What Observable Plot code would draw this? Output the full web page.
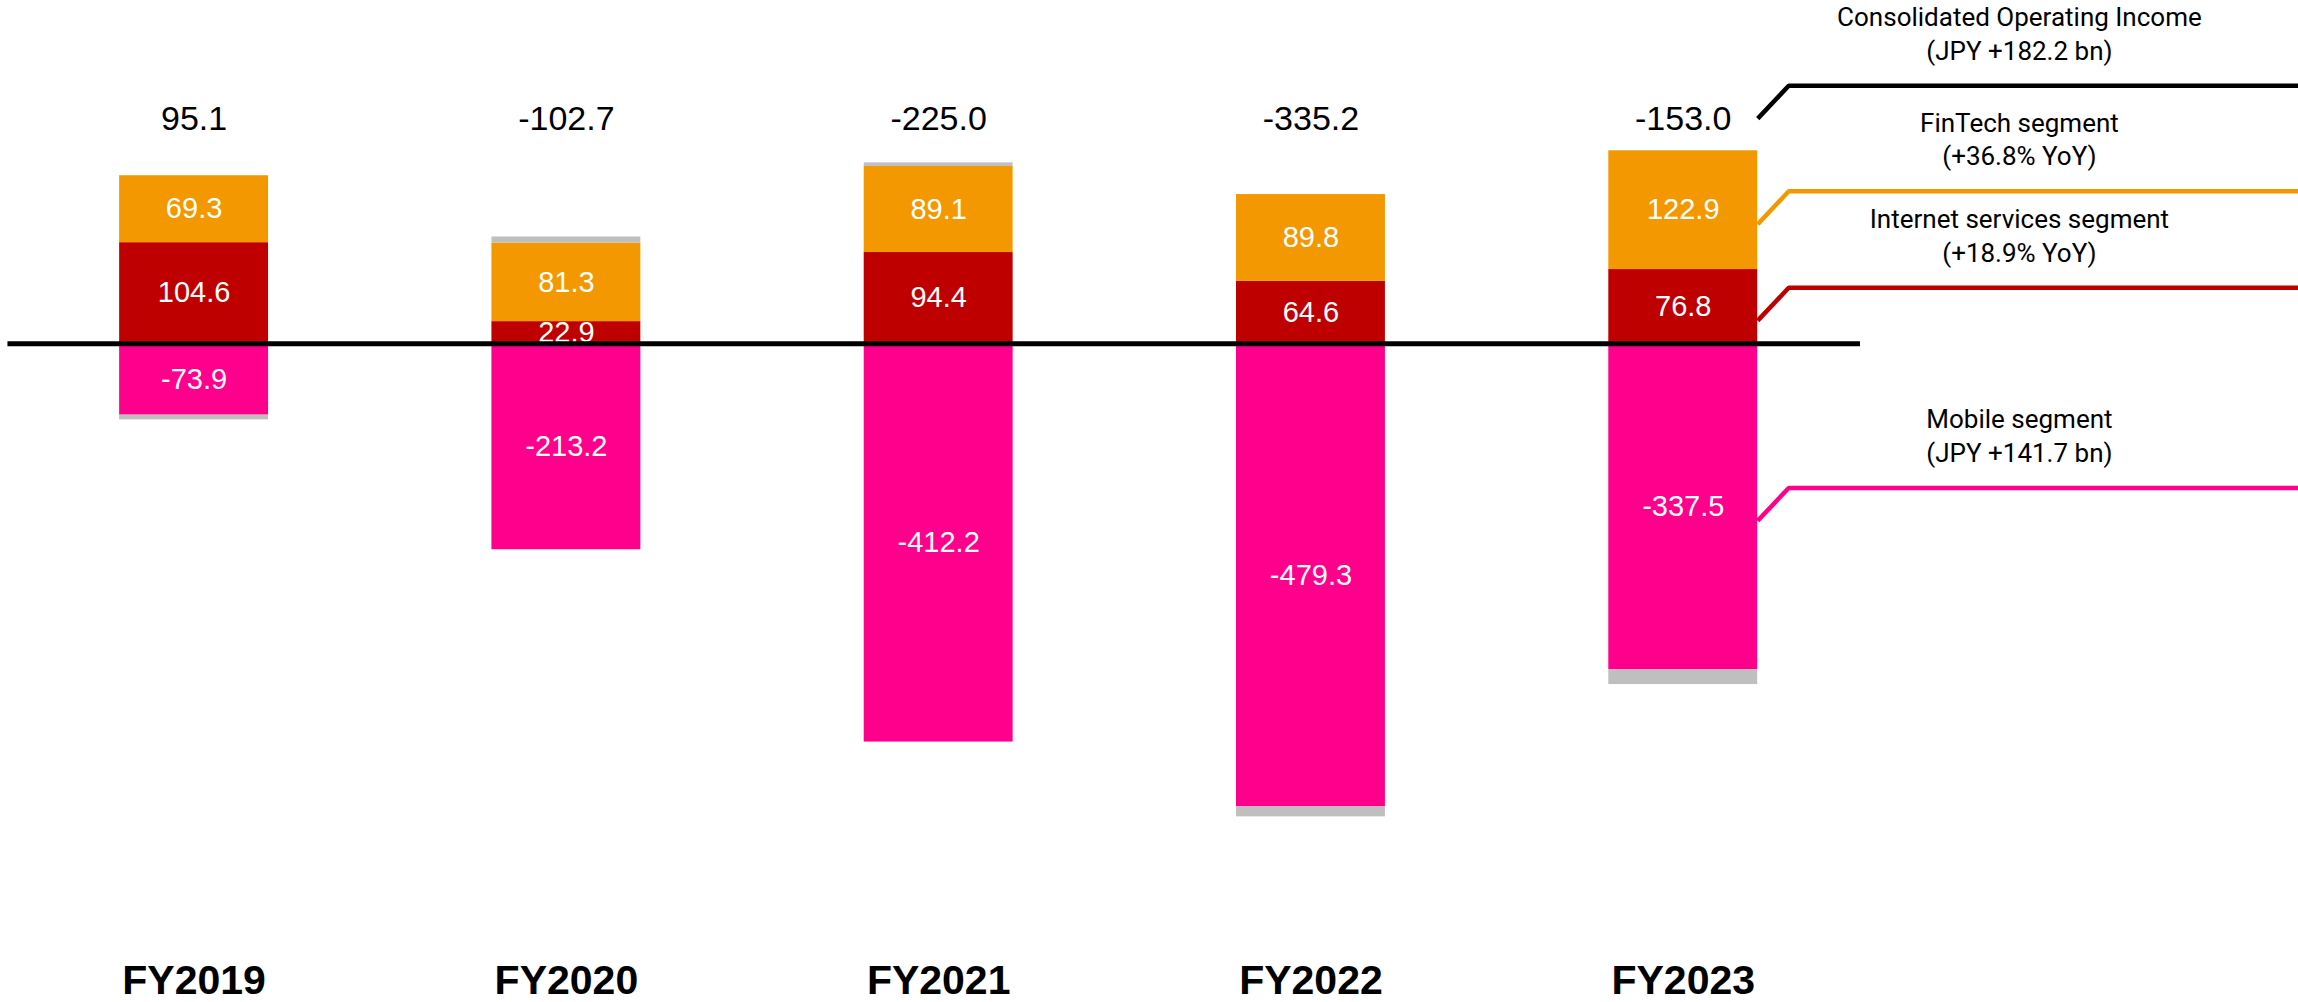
<!DOCTYPE html>
<html>
<head>
<meta charset="utf-8">
<script src="https://cdn.jsdelivr.net/npm/d3@7"></script>
<script src="https://cdn.jsdelivr.net/npm/@observablehq/plot@0.6"></script>
<style>
  html, body { margin: 0; padding: 0; background: #fff; }
  #chart svg { display: block; }
</style>
</head>
<body>
<div id="chart"></div>
<script>
// Operating income by segment, JPY bn
const years = ["FY2019", "FY2020", "FY2021", "FY2022", "FY2023"];
const internetServices = [104.6, 22.9, 94.4, 64.6, 76.8];
const finTech = [69.3, 81.3, 89.1, 89.8, 122.9];
const mobile = [-73.9, -213.2, -412.2, -479.3, -337.5];
const otherAdjustments = [-4.9, 6.3, 3.7, -10.3, -15.2];
const consolidated = [95.1, -102.7, -225.0, -335.2, -153.0];

const segmentNames = ["Internet services", "FinTech", "Mobile", "Other"];
const segmentColors = ["#BF0000", "#F39800", "#FF008C", "#BFBFBF"];

const legendTitles = ["Consolidated Operating Income", "FinTech segment", "Internet services segment", "Mobile segment"];
const legendNotes = ["(JPY +182.2 bn)", "(+36.8% YoY)", "(+18.9% YoY)", "(JPY +141.7 bn)"];
const legendColors = ["#000000", "#F39800", "#BF0000", "#FF008C"];

// Long table: one row per year and segment, in stacking order
const seriesBySegment = [internetServices, finTech, mobile, otherAdjustments];
const rows = years.flatMap((year, i) =>
  segmentNames.map((segment, k) => ({
    i, year, segment, value: seriesBySegment[k][i], color: segmentColors[k]
  }))
);
const labelled = rows.filter(d => d.segment !== "Other");

// Layout, in scale units
const HALF = 0.2;           // half of a bar's width
const X_DOMAIN = [-0.52, 5.6526];
const Y_DOMAIN = [-630, 200];
const TOTAL_ROW = 233;      // row of the consolidated totals, above the bars
const RISE = 34;            // rise of the leader lines
const KINK = 0.0833;        // horizontal run of the leader lines' slant
const LABEL_SHIFT = 14.5;   // leader lines leave a segment a little below its middle

// Leader lines from the last bar to the legend on the right
const last = years.length - 1;
const anchors = [
  TOTAL_ROW,
  internetServices[last] + finTech[last] / 2 - LABEL_SHIFT,
  internetServices[last] / 2 - LABEL_SHIFT,
  mobile[last] / 2 - LABEL_SHIFT
];
const legendRows = legendTitles.map((title, k) => ({
  key: title,
  title,
  note: legendNotes[k],
  color: legendColors[k],
  anchor: anchors[k]
}));
const leaderPoints = legendRows.flatMap(d => [
  {key: d.key, color: d.color, x: last + HALF, y: d.anchor},
  {key: d.key, color: d.color, x: last + HALF + KINK, y: d.anchor + RISE},
  {key: d.key, color: d.color, x: X_DOMAIN[1], y: d.anchor + RISE}
]);

const chart = Plot.plot({
  width: 2298,
  height: 1002,
  marginTop: 150,
  marginBottom: 50,
  marginLeft: 0,
  marginRight: 0,
  style: {fontFamily: "'Liberation Sans', Arial, sans-serif", background: "#fff", color: "#000"},
  x: {type: "linear", domain: X_DOMAIN, axis: null},
  y: {domain: Y_DOMAIN, axis: null},
  color: {type: "identity"},
  marks: [
    Plot.rectY(rows, Plot.stackY({
      x1: d => d.i - HALF,
      x2: d => d.i + HALF,
      y: "value",
      fill: "color"
    })),
    Plot.text(labelled, Plot.stackY({
      x: "i",
      y: "value",
      text: d => d.value.toFixed(1),
      fill: "#fff",
      fontSize: 29
    })),
    Plot.text(years, {
      x: (d, i) => i,
      y: () => TOTAL_ROW,
      text: (d, i) => consolidated[i].toFixed(1),
      fill: "#000",
      fontSize: 34
    }),
    Plot.ruleY([0], {
      x1: () => -0.5,
      x2: () => last + 0.476,
      stroke: "#000",
      strokeWidth: 5
    }),
    Plot.line(leaderPoints, {
      x: "x",
      y: "y",
      z: "key",
      stroke: "color",
      strokeWidth: 4.5,
      strokeLinejoin: "miter",
      strokeLinecap: "butt"
    }),
    Plot.text(legendRows, {
      x: () => 4.903,
      y: d => d.anchor + RISE,
      text: d => d.title + "\n" + d.note,
      lineAnchor: "bottom",
      lineHeight: 1.3,
      dy: -26,
      fontSize: 26,
      fontFamily: "Roboto, 'Liberation Sans', sans-serif",
      fill: "#000"
    }),
    Plot.axisX(years.map((d, i) => i), {
      tickFormat: i => years[i],
      tickSize: 0,
      tickPadding: 12,
      fontSize: 41,
      fontWeight: "bold",
      anchor: "bottom",
      label: null
    })
  ]
});

document.getElementById("chart").append(chart);
</script>
</body>
</html>
